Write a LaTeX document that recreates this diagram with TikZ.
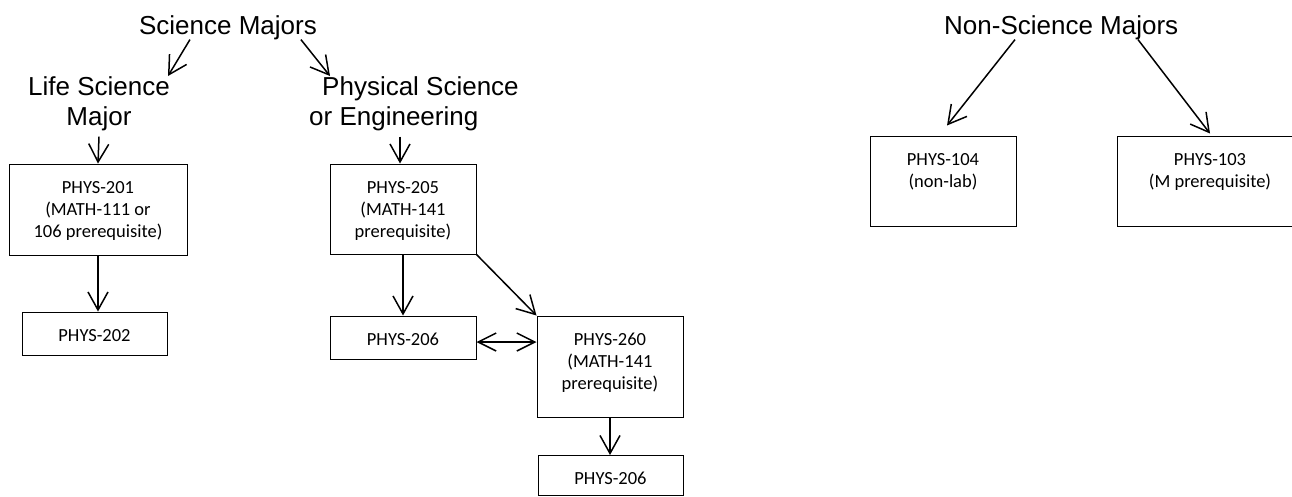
\documentclass[tikz,border=0pt]{standalone}
\usepackage{fontspec}
\setmainfont{Liberation Sans}
\newfontfamily\carlito{Carlito}
\usetikzlibrary{arrows.meta}
\newcommand{\crstext}[3]{\parbox[c][#2pt][t]{#1pt}{\centering\rule{0pt}{29pt}#3}}

\begin{document}
\begin{tikzpicture}[x=1pt, y=-1pt]
    % Styling
    \tikzset{
        c_major/.style={inner sep=0pt, font=\fontsize{26}{30}\selectfont},
        c_course/.style={draw, line width=1pt, inner sep=0pt, font=\carlito\fontsize{18.5}{22}\selectfont},
        c_arrow/.style={line width=1.5pt, -{Straight Barb[length=18pt, width=20pt]}},
        c_both/.style={line width=1.5pt, {Straight Barb[length=18pt, width=18pt]}-{Straight Barb[length=18pt, width=18pt]}}
    }
    \useasboundingbox (0,0) rectangle (1292,496);
    \clip (0,0) rectangle (1292,496);

    % Majors
    \node[c_major, anchor=base] (sci) at (228,34) {Science Majors};
    \node[c_major, align=center, anchor=north] (life) at (99,76) {Life Science\\Major};
    \node[c_major, align=left, anchor=north west] (phys) at (309,76) {\hspace*{13pt}Physical Science\\or Engineering};
    \node[c_major, anchor=base west] (nonsci) at (944,34) {Non-Science Majors};

    % Courses
    \node[c_course] (p201) at (98,209.5) {\crstext{178}{91}{PHYS-201\\(MATH-111 or\\106 prerequisite)}};
    \node[c_course] (p202) at (94.5,333.5) {\crstext{145}{43}{PHYS-202}};
    \node[c_course] (p205) at (403,209) {\crstext{146}{90}{PHYS-205\\(MATH-141\\prerequisite)}};
    \node[c_course] (p206a) at (403,337.5) {\crstext{146}{43}{PHYS-206}};
    \node[c_course] (p260) at (610,366.5) {\crstext{146}{101}{PHYS-260\\(MATH-141\\prerequisite)}};
    \node[c_course] (p206b) at (610.5,475.5) {\crstext{145}{40}{PHYS-206}};
    \node[c_course] (p104) at (943,181) {\crstext{146}{90}{PHYS-104\\(non-lab)}};
    \node[c_course] (p103) at (1210,181) {\crstext{186}{90}{PHYS-103\\(M prerequisite)}};

    % Arrows
    \draw[c_arrow] ([xshift=51pt]sci.south west) -- ([xshift=69pt]life.north);
    \draw[c_arrow] ([xshift=162pt]sci.south west) -- ([xshift=21pt]phys.north west);
    \draw[c_arrow] ([yshift=-6pt]life.south) -- (p201.north);
    \draw[c_arrow] ([xshift=91pt, yshift=-6pt]phys.south west) -- ([xshift=-3pt]p205.north);
    \foreach \a/\b in {p201/p202, p205/p206a, p260/p206b}
        \draw[c_arrow] (\a.south) -- (\a.south |- \b.north);
    \draw[c_arrow] (p205.south east) -- (p260.north west);
    \draw[c_both] ([yshift=-4.5pt]p206a.east) -- ([yshift=-4.5pt]p206a.east -| p260.west);
    \draw[c_arrow] ([xshift=71pt]nonsci.south west) -- ([xshift=4pt, yshift=10pt]p104.north);
    \draw[c_arrow] ([xshift=194pt]nonsci.south west) -- ([yshift=2pt]p103.north);
\end{tikzpicture}
\end{document}
